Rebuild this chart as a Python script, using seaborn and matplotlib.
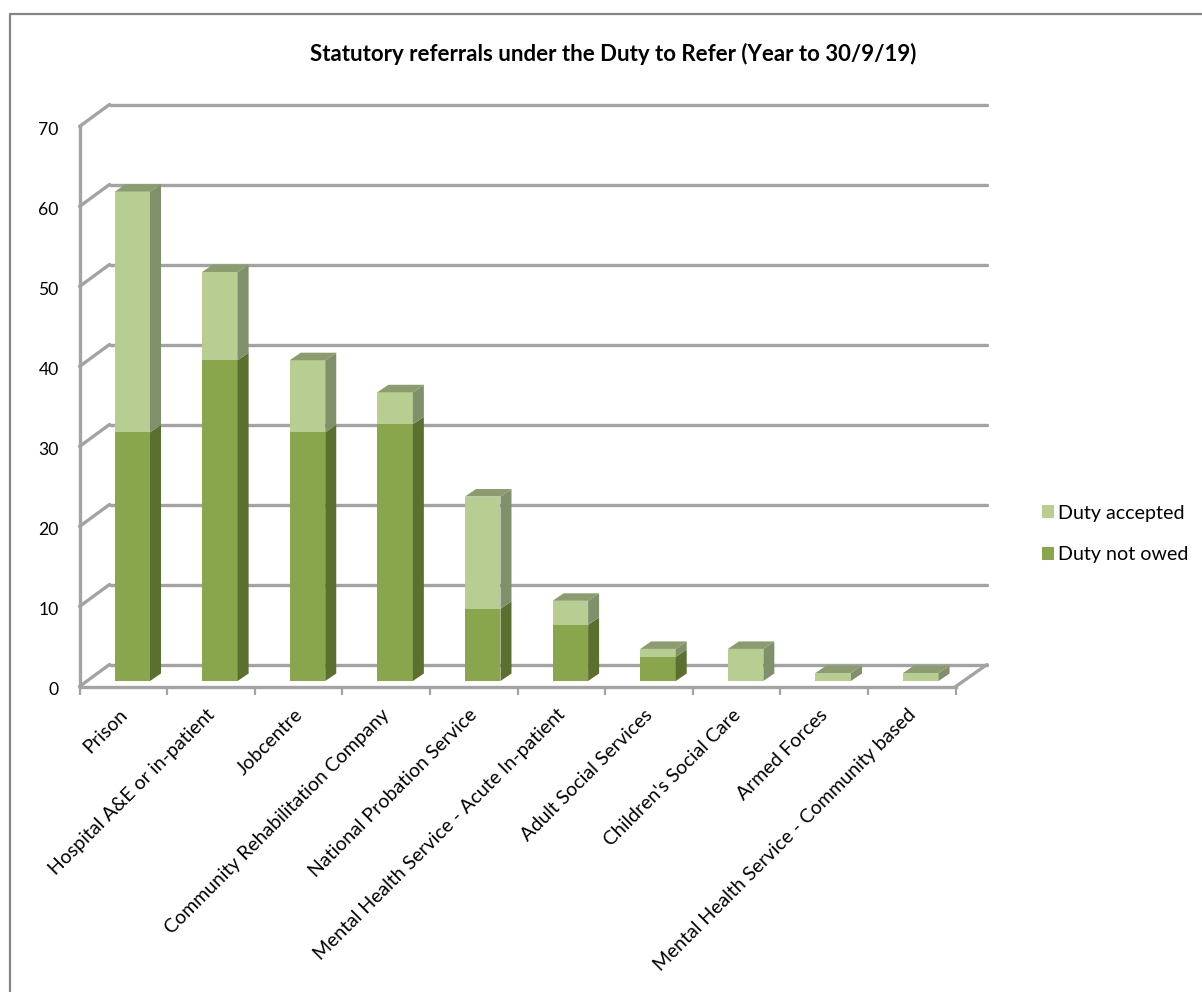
import matplotlib
matplotlib.use("Agg")
import matplotlib.pyplot as plt
from matplotlib.lines import Line2D
from matplotlib.patches import ConnectionPatch, Patch, Polygon
from matplotlib.transforms import ScaledTranslation
import numpy as np
import pandas as pd
import seaborn as sns

categories = [
    "Prison", "Hospital A&E or in-patient", "Jobcentre",
    "Community Rehabilitation Company", "National Probation Service",
    "Mental Health Service - Acute In-patient", "Adult Social Services",
    "Children's Social Care", "Armed Forces",
    "Mental Health Service - Community based",
]
duty_not_owed = [31, 40, 31, 32, 9, 7, 3, 0, 0, 0]
duty_accepted = [30, 11, 9, 4, 14, 3, 1, 4, 1, 1]
y_ticks = [0, 10, 20, 30, 40, 50, 60, 70]
title = "Statutory referrals under the Duty to Refer (Year to 30/9/19)"

W, H = 1202, 992
GRID = "#a3a3a3"
FRAME = "#868686"
ACCEPTED = {"front": "#b8cd92", "side": "#7f906a"}
NOT_OWED = {"front": "#8aa64c", "side": "#5b6f2f"}
TOP = "#8b9c6e"

sns.set_theme(style="white")
plt.rcParams["font.family"] = ["Lato", "DejaVu Sans"]


def px_axes(fig, left, right, bottom, top):
    """Axes placed by pixel edges measured from the top-left corner."""
    return fig.add_axes([left / W, 1 - bottom / H, (right - left) / W, (bottom - top) / H])


fig = plt.figure(figsize=(W / 100, H / 100), dpi=100, facecolor="white")

# Back wall: horizontal gridlines only
back = px_axes(fig, 109.5, 987, 664.5, 104.5)
back.set(xlim=(-0.5, 9.5), ylim=(0, 70), yticks=y_ticks, xticks=[])
back.set_yticklabels([])
back.tick_params(left=False)
back.grid(axis="y", color=GRID, lw=2.4)
for gridline in back.get_ygridlines():
    gridline.set_clip_on(False)
sns.despine(ax=back, left=True, bottom=True)

# Front edges of the box carry the ticks and labels
front = px_axes(fig, 79.5, 955.7, 686.5, 126.5)
front.patch.set_alpha(0)
front.set(xlim=(-0.5, 9.5), ylim=(0, 70))
sns.despine(ax=front)
for side in ("left", "bottom"):
    front.spines[side].set_color(GRID)
    front.spines[side].set_linewidth(2.4)
front.set_yticks(y_ticks)
front.tick_params(axis="y", length=6, width=1.6, color=GRID, labelsize=12.6, labelcolor="black", pad=9)
front.set_xticks(np.arange(10))
front.set_xticklabels(categories, rotation=45, ha="right", rotation_mode="anchor",
                      fontsize=14.05, color="black")
front.tick_params(axis="x", which="major", length=0, pad=14)
front.set_xticks(np.arange(-0.5, 10), minor=True)
front.tick_params(axis="x", which="minor", length=6, width=1.6, color=GRID, bottom=True)
front.set_xlabel("")
front.set_ylabel("")

# Nudge the labels so they clear the sloping floor of the box
nudge_x = ScaledTranslation(-5 / 100, 0, fig.dpi_scale_trans)
nudge_y = ScaledTranslation(0, -2 / 100, fig.dpi_scale_trans)
for label in front.get_xticklabels():
    label.set_transform(label.get_transform() + nudge_x)
for label in front.get_yticklabels():
    label.set_transform(label.get_transform() + nudge_y)

# Depth lines joining the front edges to the back wall
for v in y_ticks:
    fig.add_artist(ConnectionPatch((-0.5, v), (-0.5, v), "data", "data", axesA=front, axesB=back,
                                   color=GRID, lw=2.4, capstyle="round"))
fig.add_artist(ConnectionPatch((9.5, 0), (9.5, 0), "data", "data", axesA=front, axesB=back,
                               color=GRID, lw=2.4, capstyle="round"))

# Bars sit part-way into the box
bars = px_axes(fig, 88.45, 964.65, 681, 119.6)
bars.patch.set_alpha(0)
table = pd.DataFrame({"category": categories, "not_owed": duty_not_owed, "accepted": duty_accepted})
sns.barplot(data=table, x="category", y="not_owed", color=NOT_OWED["front"], saturation=1,
            width=0.405, ax=bars, linewidth=0)
sns.barplot(data=table, x="category", y="accepted", bottom=table["not_owed"], color=ACCEPTED["front"],
            saturation=1, width=0.405, ax=bars, linewidth=0)
bars.set(xlim=(-0.5, 9.5), ylim=(0, 70))
bars.axis("off")

# Side and top faces of each column, sheared by the depth of the bar
DX = 11 / 87.62
DY = 7.5 / 8.02
HALF = 0.405 / 2
for i, (low, high) in enumerate(zip(duty_not_owed, duty_accepted)):
    xr = i + HALF
    for base, size, colours in ((0, low, NOT_OWED), (low, high, ACCEPTED)):
        if size == 0:
            continue
        bars.add_patch(Polygon([(xr, base), (xr + DX, base + DY), (xr + DX, base + size + DY), (xr, base + size)],
                               closed=True, fc=colours["side"], ec="none", zorder=3))
    total = low + high
    bars.add_patch(Polygon([(i - HALF, total), (i - HALF + DX, total + DY), (xr + DX, total + DY), (xr, total)],
                           closed=True, fc=TOP, ec="none", zorder=3))

fig.text(613.5 / W, 1 - 54 / H, title, ha="center", va="center", fontsize=16, fontweight="bold", color="black")

# Legend
legend_handles = [Patch(fc=ACCEPTED["front"], ec="none", label="Duty accepted"),
                  Patch(fc=NOT_OWED["front"], ec="none", label="Duty not owed")]
fig.legend(handles=legend_handles, loc="center left", bbox_to_anchor=(1024 / W, 1 - 534 / H), frameon=False,
           fontsize=14.1, handlelength=0.65, handleheight=0.65, handletextpad=0.2, labelspacing=1.25,
           labelcolor="black")

# Chart frame
fig.add_artist(Line2D([10 / W, 10 / W, 1], [0, 1 - 14 / H, 1 - 14 / H], color=FRAME, lw=1.6, transform=fig.transFigure))

fig.savefig("out.png", dpi=100)
